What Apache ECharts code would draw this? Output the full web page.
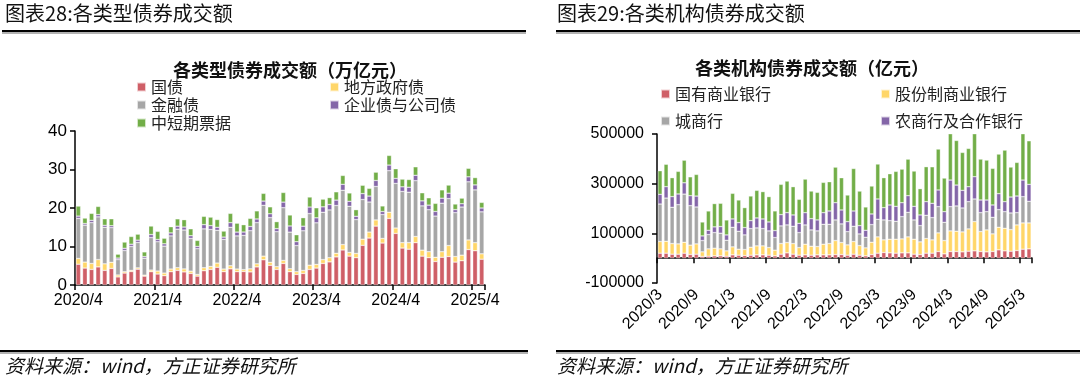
<!DOCTYPE html>
<html>
<head>
<meta charset="utf-8">
<script src="https://cdn.jsdelivr.net/npm/echarts@6/dist/echarts.min.js"></script>
<style>
html,body{margin:0;padding:0;background:#fff;}
#c{width:1080px;height:380px;}
</style>
</head>
<body>
<div id="c"></div>
<script>
// ---------- Chart 28: monthly 2020/4 - 2025/5 (万亿元) ----------
const cats1 = [];
for (let y = 2020, m = 4; cats1.length < 62; ) { cats1.push(y + '/' + m); m++; if (m > 12) { m = 1; y++; } }
const xTickLabels1 = ['2020/4','2021/4','2022/4','2023/4','2024/4','2025/4'];

const guoZhai = [5.4,4.4,4.05,4.7,3.8,4.3,2.1,3.1,3.5,4.1,2.3,3.45,
  2.85,2.4,3.45,3.8,3.4,3.0,2.3,3.7,4.05,4.6,3.45,4.2,
  3.45,3.5,3.4,4.7,6.55,5.1,4.05,5.6,3.45,2.75,3.0,4.05,
  4.4,5.6,6.0,7.3,9.1,7.5,7.1,10.3,12.2,15.3,10.9,17.3,
  13.4,9.6,9.3,11.0,7.5,7.1,6.1,7.2,7.4,5.95,6.3,9.2,
  8.9,6.7];
const difangZhai = [1.5,1.55,1.55,1.9,1.7,1.6,0.5,0.35,0.3,0.35,0.26,0.43,
  0.78,0.7,0.7,0.7,0.78,0.6,0.43,0.78,0.78,1.1,0.7,0.8,
  0.7,0.5,0.8,0.8,0.95,0.8,0.7,0.78,0.78,0.7,0.78,1.1,
  0.95,1.0,1.1,0.95,1.4,0.95,1.1,1.6,1.55,1.6,1.2,1.6,
  1.4,1.4,1.7,1.6,1.55,1.55,1.1,1.45,2.85,1.45,1.45,2.5,
  2.1,1.4];
const jinrongZhai = [10.4,9.6,10.6,11.1,9.5,9.0,4.0,5.5,6.2,6.6,4.4,8.45,
  7.6,7.0,8.6,10.0,10.1,8.5,6.7,10.1,9.6,8.5,7.7,10.0,
  8.6,8.9,9.9,10.7,13.2,11.6,9.1,13.7,9.5,6.8,10.3,13.4,
  10.8,12.3,12.4,12.4,14.1,12.0,8.8,10.3,7.8,8.7,6.2,10.8,
  11.6,13.3,13.1,14.5,11.5,10.9,10.7,12.6,12.2,11.4,12.5,15.1,
  13.7,10.9];
const qiyeZhai = [0.6,0.43,0.6,0.6,0.5,0.5,0.4,0.6,0.6,0.6,0.43,0.78,
  0.6,0.6,0.78,0.78,0.78,0.7,0.6,1.1,1.0,0.8,0.6,1.2,
  1.0,0.86,1.1,0.95,1.1,1.0,0.8,1.45,1.6,1.0,1.2,1.7,
  1.3,1.4,1.4,1.4,1.55,1.3,0.86,1.55,1.55,1.55,0.78,1.45,
  1.3,1.2,1.3,1.4,1.3,1.2,1.2,1.3,1.4,0.78,0.86,1.3,
  1.3,1.0];
const zhongduanPiaoju = [2.6,1.4,1.8,2.1,1.7,1.8,1.0,1.6,2.0,1.55,1.2,2.2,
  2.1,1.45,1.6,1.9,1.9,1.8,1.55,2.15,2.2,2.0,1.55,2.4,
  2.3,1.9,2.1,2.1,2.0,1.8,1.8,2.5,2.85,1.8,2.2,2.6,
  2.6,2.0,1.8,2.15,2.3,2.15,1.7,2.15,2.0,2.15,1.45,2.5,
  2.5,2.0,2.0,2.2,2.1,1.9,2.1,2.15,2.1,1.45,1.45,2.2,
  1.9,1.45];

// ---------- Chart 29: monthly 2020/3 - 2025/4 (亿元) ----------
const cats2 = [];
for (let y = 2020, m = 3; cats2.length < 62; ) { cats2.push(y + '/' + m); m++; if (m > 12) { m = 1; y++; } }

const guoyouBank = [20000,20000,16000,16000,20000,15000,16000,6700,8000,9400,9400,8000,
  13400,12000,10700,12000,13400,13400,12000,9400,16100,21400,16100,12000,
  13400,12000,13400,13400,13400,14700,14700,12000,16000,12000,9400,14700,
  20100,22800,21400,20100,21400,21400,16100,14700,20100,20100,26800,17400,
  26800,26800,25400,28100,29500,26800,25400,26800,33500,29500,28100,30800,
  36100,37500];
const gufenBank = [47000,48000,43000,41500,44000,37500,41500,18700,29500,30800,28100,21400,
  32100,24100,24100,32100,36100,36100,30800,22800,42800,41500,42800,30800,
  42800,36100,33500,42800,45500,56200,48200,41500,51000,38800,32100,49500,
  65600,50900,54900,56200,56200,64300,60200,50900,59000,53500,75000,53500,
  83000,81700,80300,89700,117800,80300,88400,71000,91000,91000,87000,103100,
  105800,104400];
const chengshangBank = [151000,174000,146000,158000,194000,159000,148600,45500,57500,63000,63000,42800,
  79000,72300,58900,75000,72300,69600,66900,50900,71000,71000,69600,60200,
  77600,65600,62900,80300,77600,83000,75000,53500,61500,46800,42800,71000,
  71000,80300,75000,72300,89700,99000,77600,65600,93700,89700,105800,73600,
  97700,101700,96400,109800,91000,76300,73600,66900,71000,66900,66900,49500,
  105800,87000];
const nongshangBank = [39000,46000,43000,43000,45500,40000,44000,18700,17400,22800,26800,21400,
  33500,34800,29500,32100,40200,38800,36100,28100,45500,49500,45500,37500,
  49500,45500,44200,46800,53500,69600,56200,40200,61500,33500,28100,42800,
  81700,49500,62900,60200,56200,67000,54900,42800,54900,57600,67000,42800,
  107100,84300,71000,60200,89700,50900,46800,49500,64300,40200,64300,66900,
  66900,68300];
const otherInst = [95000,90000,76000,91000,91000,76000,87000,56000,77600,93700,93700,60200,
  103000,91000,80300,99100,111000,110000,102000,79000,121800,127000,113800,96400,
  135000,111000,111000,121800,117800,143000,129800,107000,171000,139000,93700,112400,
  140600,120500,125800,140600,135000,147000,141900,105800,140600,147000,164700,135200,
  187400,179400,152600,154000,175400,164700,160700,147300,159300,207500,120500,135200,
  255700,175400];

const C_RED = '#CF5F67', C_YEL = '#FFD668', C_GRY = '#A6A6A6', C_PUR = '#8466A8', C_GRN = '#72AE48';
const CJK = "'Noto Sans CJK SC','Noto Sans',sans-serif";
const NUM = "'Liberation Sans','Noto Sans CJK SC',sans-serif";

const chart = echarts.init(document.getElementById('c'), null, {renderer: 'canvas'});

function bar(name, data, color, xi, yi, stack) {
  return {
    name: name, type: 'bar', stack: stack, data: data,
    xAxisIndex: xi, yAxisIndex: yi,
    barCategoryGap: '30%',
    itemStyle: {color: color, borderColor: 'rgba(255,255,255,0.7)', borderWidth: 0.5},
    emphasis: {disabled: true}, animation: false
  };
}

function legendAt(name, left, top) {
  return {
    data: [name], left: left, top: top, icon: 'rect', itemWidth: 9, itemHeight: 9, itemGap: 4,
    selectedMode: false, padding: 0,
    textStyle: {fontFamily: CJK, fontSize: 16, color: '#222'}
  };
}

const axisLineStyle = {show: true, lineStyle: {color: '#000', width: 1.5}};

chart.setOption({
  animation: false,
  backgroundColor: '#fff',
  grid: [
    {left: 75, top: 131, width: 410, height: 154, containLabel: false},
    {left: 657, top: 134, width: 375, height: 149, containLabel: false}
  ],
  legend: [
    legendAt('国债', 136, 79),
    legendAt('地方政府债', 329, 79),
    legendAt('金融债', 136, 97),
    legendAt('企业债与公司债', 329, 97),
    legendAt('中短期票据', 136, 115),
    legendAt('国有商业银行', 660, 86),
    legendAt('股份制商业银行', 880, 86),
    legendAt('城商行', 660, 113),
    legendAt('农商行及合作银行', 880, 113)
  ],
  xAxis: [
    {type: 'category', gridIndex: 0, data: cats1,
      axisLine: axisLineStyle,
      axisTick: {show: true, interval: 11, length: 5, lineStyle: {color: '#000', width: 1.5}},
      axisLabel: {interval: 11, fontFamily: NUM, fontSize: 16, color: '#000', margin: 8,
        formatter: v => xTickLabels1.includes(v) ? v : ''}},
    {type: 'category', gridIndex: 1, data: cats2,
      axisLine: {show: true, onZero: true, lineStyle: {color: '#000', width: 1.5}},
      axisTick: {show: true, interval: 5, length: 5, lineStyle: {color: '#000', width: 1.5}},
      axisLabel: {show: false}},
    {type: 'category', gridIndex: 1, data: cats2, position: 'bottom',
      axisLine: {show: false, onZero: false}, axisTick: {show: false},
      axisLabel: {interval: 5, rotate: 45, fontFamily: NUM, fontSize: 16, color: '#000', margin: 9}}
  ],
  yAxis: [
    {type: 'value', gridIndex: 0, min: 0, max: 40, interval: 10,
      axisLine: axisLineStyle,
      axisTick: {show: true, length: 5, lineStyle: {color: '#000', width: 1.5}},
      splitLine: {show: false},
      axisLabel: {fontFamily: NUM, fontSize: 17, color: '#000', margin: 8}},
    {type: 'value', gridIndex: 1, min: -100000, max: 500000, interval: 200000,
      axisLine: axisLineStyle,
      axisTick: {show: true, length: 5, lineStyle: {color: '#000', width: 1.5}},
      splitLine: {show: false},
      axisLabel: {fontFamily: NUM, fontSize: 16, color: '#000', margin: 13, formatter: v => String(v)}}
  ],
  series: [
    bar('国债', guoZhai, C_RED, 0, 0, 'a'),
    bar('地方政府债', difangZhai, C_YEL, 0, 0, 'a'),
    bar('金融债', jinrongZhai, C_GRY, 0, 0, 'a'),
    bar('企业债与公司债', qiyeZhai, C_PUR, 0, 0, 'a'),
    bar('中短期票据', zhongduanPiaoju, C_GRN, 0, 0, 'a'),
    bar('国有商业银行', guoyouBank, C_RED, 1, 1, 'b'),
    bar('股份制商业银行', gufenBank, C_YEL, 1, 1, 'b'),
    bar('城商行', chengshangBank, C_GRY, 1, 1, 'b'),
    bar('农商行及合作银行', nongshangBank, C_PUR, 1, 1, 'b'),
    bar('其他', otherInst, C_GRN, 1, 1, 'b')
  ],
  graphic: [
    {type: 'text', left: 5, top: 3, style: {text: '图表28:各类型债券成交额', fontFamily: CJK, fontSize: 20, fill: '#111'}},
    {type: 'text', left: 557, top: 3, style: {text: '图表29:各类机构债券成交额', fontFamily: CJK, fontSize: 20, fill: '#111'}},
    {type: 'rect', shape: {x: 2, y: 30, width: 524, height: 2}, style: {fill: '#000'}},
    {type: 'rect', shape: {x: 2, y: 32.5, width: 524, height: 1}, style: {fill: '#666'}},
    {type: 'rect', shape: {x: 556, y: 30, width: 524, height: 2}, style: {fill: '#000'}},
    {type: 'rect', shape: {x: 556, y: 32.5, width: 524, height: 1}, style: {fill: '#666'}},
    {type: 'text', x: 290, y: 70, style: {text: '各类型债券成交额（万亿元）', fontFamily: CJK, fontSize: 18, fontWeight: 'bold', fill: '#111', align: 'center', verticalAlign: 'middle'}},
    {type: 'text', x: 812, y: 68, style: {text: '各类机构债券成交额（亿元）', fontFamily: CJK, fontSize: 18, fontWeight: 'bold', fill: '#111', align: 'center', verticalAlign: 'middle'}},
    {type: 'rect', shape: {x: 0, y: 350, width: 528, height: 2}, style: {fill: '#000'}},
    {type: 'rect', shape: {x: 0, y: 352.5, width: 528, height: 1}, style: {fill: '#666'}},
    {type: 'rect', shape: {x: 556, y: 350, width: 524, height: 2}, style: {fill: '#000'}},
    {type: 'rect', shape: {x: 556, y: 352.5, width: 524, height: 1}, style: {fill: '#666'}},
    {type: 'text', left: 5, top: 356, style: {text: '资料来源：wind，方正证券研究所', fontFamily: CJK, fontSize: 19, fontStyle: 'italic', fill: '#111'}},
    {type: 'text', left: 557, top: 356, style: {text: '资料来源：wind，方正证券研究所', fontFamily: CJK, fontSize: 19, fontStyle: 'italic', fill: '#111'}}
  ]
});
</script>
</body>
</html>
